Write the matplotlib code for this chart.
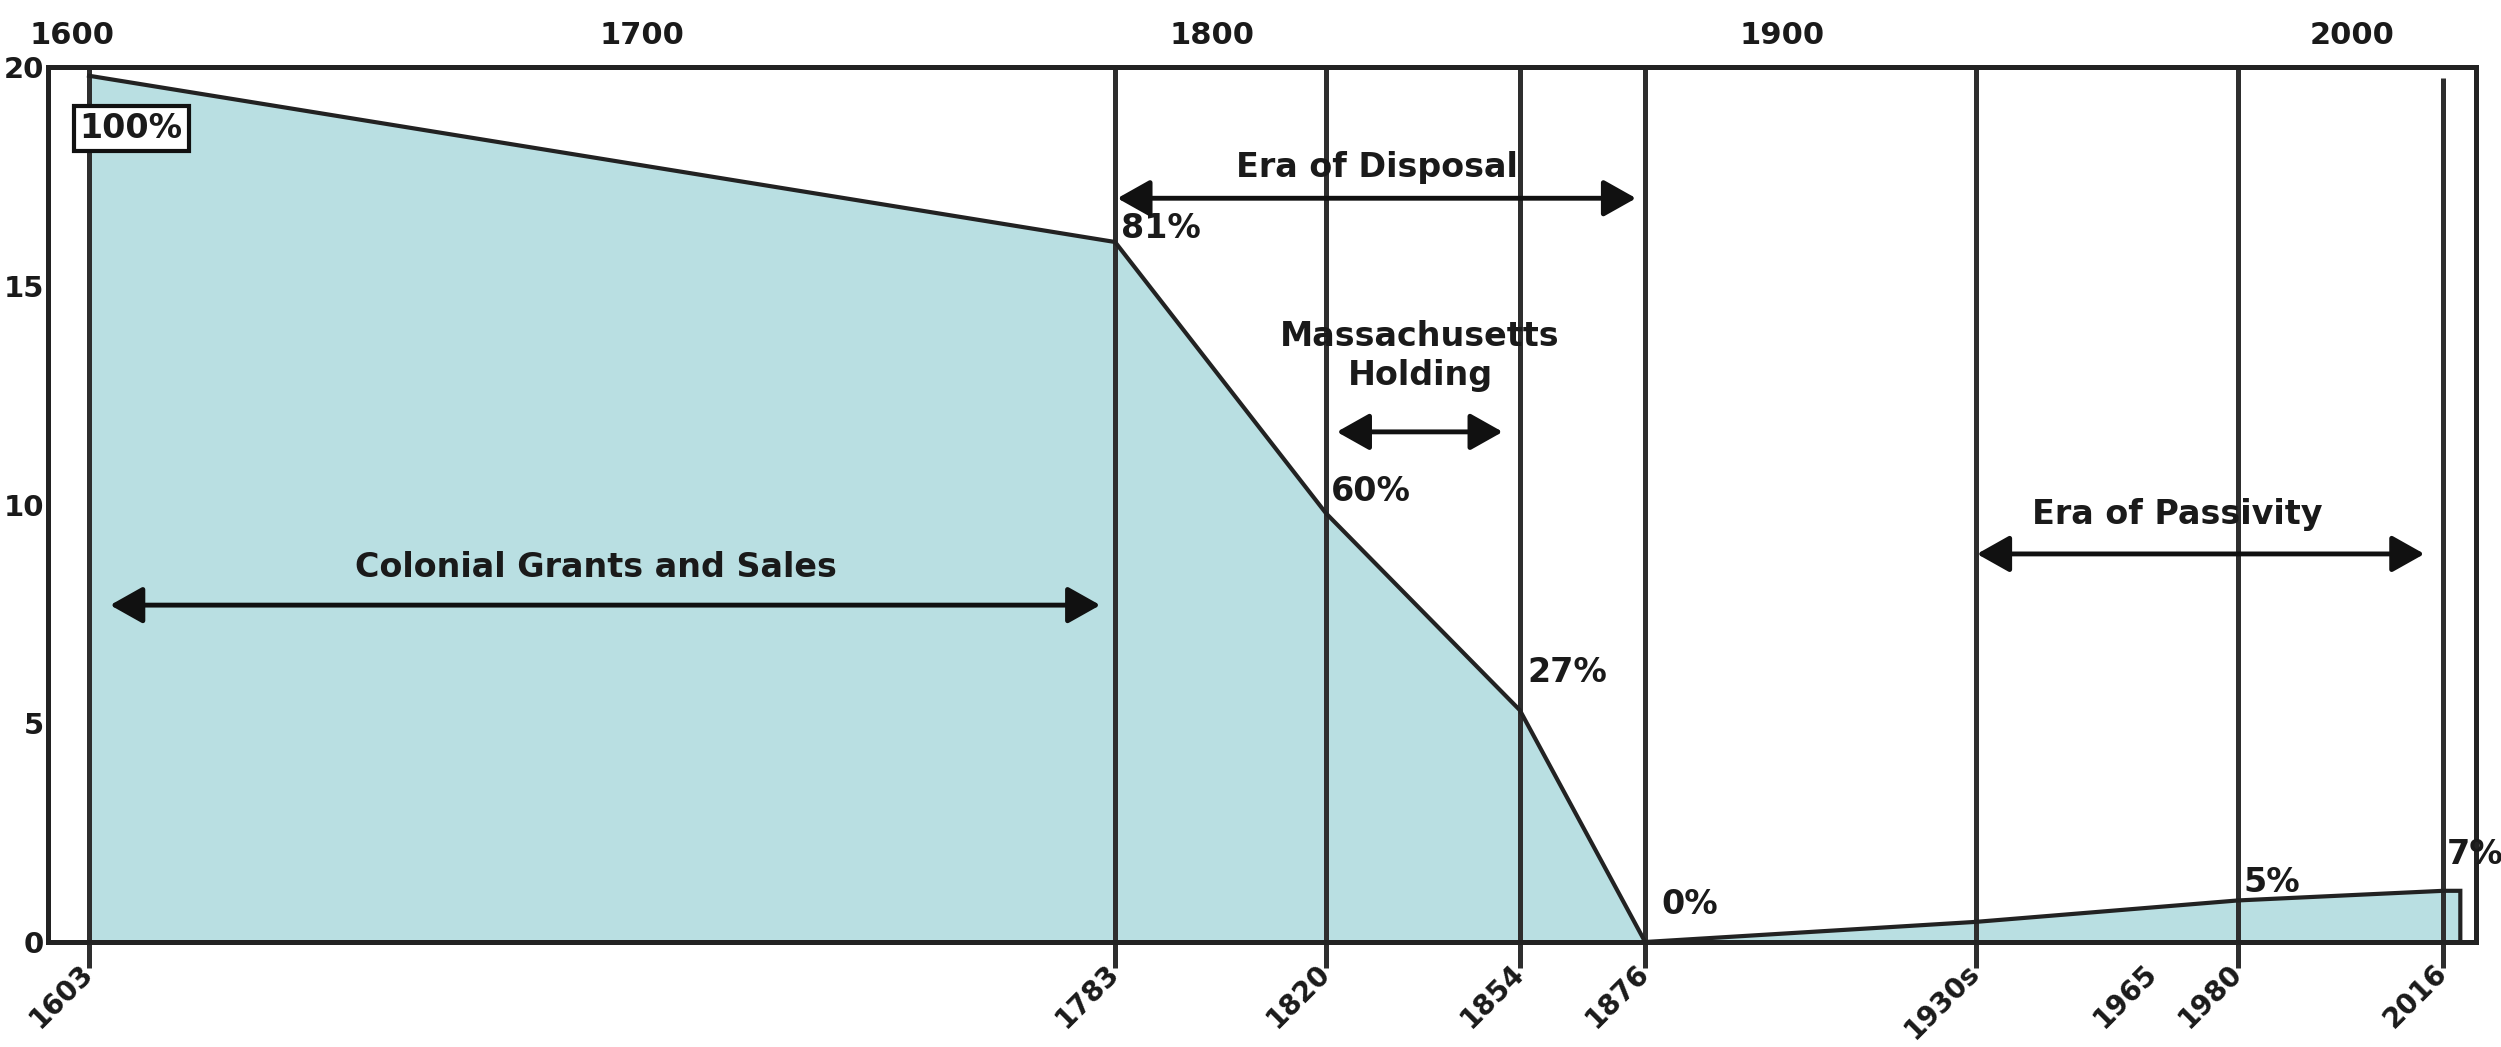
import matplotlib
matplotlib.use("Agg")
import matplotlib.pyplot as plt

# ---------------- data ----------------
years = [1603, 1783, 1820, 1854, 1876, 1934, 1980, 2016, 2019]
share = [19.8, 16.0, 9.8, 5.3, 0.0, 0.46, 0.95, 1.17, 1.17]

line_years = [1603, 1783, 1820, 1854, 1876, 1934, 1980, 2016]
line_tops = [20, 20, 20, 20, 20, 20, 20, 19.75]

tick_years = [1603, 1783, 1820, 1854, 1876, 1934, 1965, 1980, 2016]
tick_labels = ["1603", "1783", "1820", "1854", "1876", "1930s", "1965", "1980", "2016"]

top_years = [1600, 1700, 1800, 1900, 2000]
y_ticks = [0, 5, 10, 15, 20]

pct_labels = ["81%", "60%", "27%", "0%", "5%", "7%"]
pct_pos = [(1784.0, 16.3), (1820.9, 10.3), (1855.4, 6.15), (1878.8, 0.85),
           (1981.0, 1.37), (2016.7, 2.0)]

eras = ["Colonial Grants and Sales", "Era of Disposal", "Massachusetts\nHolding", "Era of Passivity"]
era_text_pos = [(1692.0, 8.55), (1829.0, 17.7), (1836.5, 13.4), (1969.4, 9.78)]
era_arrows = [(1606.7, 1780.4, 7.7), (1783.4, 1874.4, 17.0), (1821.9, 1851.0, 11.66),
              (1934.2, 2012.7, 8.87)]

# ---------------- style ----------------
plt.rcParams["font.family"] = ["DejaVu Sans"]
plt.rcParams["font.weight"] = "bold"
TXT = "#1a1a1a"
LINE = "#2e2e2e"
FILL = "#B9DFE2"

W, H = 2501, 1047
fig = plt.figure(figsize=(W / 100, H / 100), dpi=100)
ax = fig.add_axes([48 / W, 1 - 942 / H, (2476 - 48) / W, (942 - 67) / H])
ax.set_xlim(1595.8, 2021.75)
ax.set_ylim(0, 20)

# area
ax.fill(years + [years[-1], years[0]], share + [0, 0], facecolor=FILL,
        edgecolor="none", zorder=1)
ax.plot(years + [years[-1]], share + [0], color="#222222", lw=3.0, zorder=4,
        solid_joinstyle="miter")

# vertical event lines
ax.vlines(line_years, -0.6, line_tops, colors=LINE, lw=3.6, zorder=3, clip_on=False)

for s in ax.spines.values():
    s.set_linewidth(3.6)
    s.set_color("#222222")
    s.set_zorder(5)

# bottom ticks
ax.set_xticks(tick_years)
ax.set_xticklabels(tick_labels)
ax.tick_params(axis="x", length=0, pad=19, labelsize=20, labelcolor=TXT)
for lbl in ax.get_xticklabels():
    lbl.set_rotation(45)
    lbl.set_ha("right")
    lbl.set_va("center")
    lbl.set_rotation_mode("anchor")

# left ticks
ax.set_yticks(y_ticks)
ax.tick_params(axis="y", length=0, pad=3, labelsize=21, labelcolor=TXT)

# top axis
sec = ax.secondary_xaxis("top")
sec.set_xticks(top_years)
sec.tick_params(length=0, pad=12, labelsize=22, labelcolor=TXT)
for s in sec.spines.values():
    s.set_visible(False)

# 100% boxed label
ax.text(1610.4, 18.6, "100%", ha="center", va="center", fontsize=24, color=TXT,
        zorder=6, bbox=dict(boxstyle="square,pad=0.18", fc="white", ec="#111111", lw=3))

# percent labels
for s, (x, y) in zip(pct_labels, pct_pos):
    ax.text(x, y, s, ha="left", va="center", fontsize=24, color=TXT, zorder=6,
            clip_on=False)

# era arrows and texts
for (x1, x2, y) in era_arrows:
    ax.annotate("", xy=(x2, y), xytext=(x1, y),
                arrowprops=dict(arrowstyle="<|-|>,head_length=0.8,head_width=0.45",
                                mutation_scale=25, lw=3.5, color="#111111",
                                shrinkA=0, shrinkB=0), zorder=6)
for s, (x, y) in zip(eras, era_text_pos):
    ax.text(x, y, s, ha="center", va="center", fontsize=24, color=TXT,
            linespacing=1.25, zorder=6)

fig.savefig("out.png", dpi=100)
